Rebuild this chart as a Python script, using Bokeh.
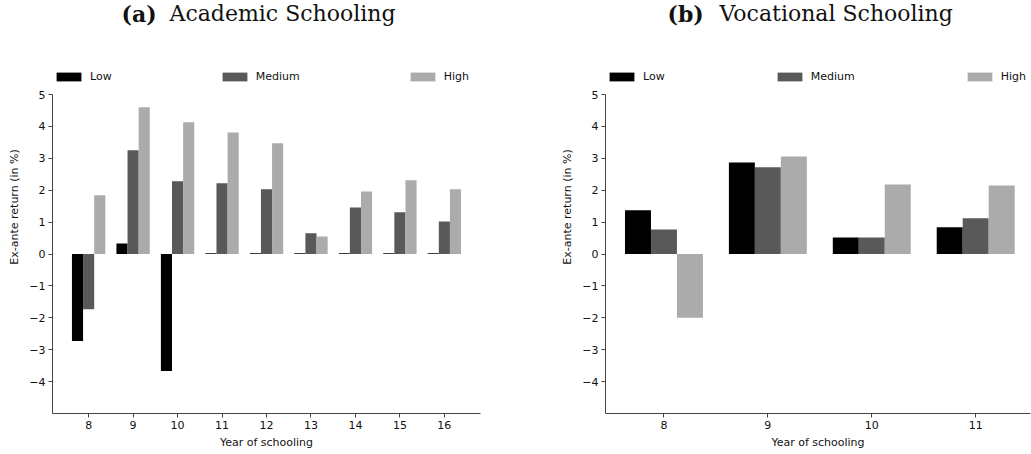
from bokeh.plotting import figure
from bokeh.models import Range1d, FixedTicker, Legend, LegendItem, Label
from bokeh.layouts import row
from bokeh.embed import file_html
from bokeh.resources import INLINE

# ---- data ----
series = ["Low", "Medium", "High"]
colors = ["#000000", "#595959", "#ababab"]

years_a = [8, 9, 10, 11, 12, 13, 14, 15, 16]
low_a = [-2.73, 0.33, -3.67, 0.02, 0.02, 0.02, 0.02, 0.02, 0.02]
med_a = [-1.73, 3.25, 2.28, 2.22, 2.03, 0.65, 1.46, 1.31, 1.02]
high_a = [1.84, 4.60, 4.13, 3.81, 3.47, 0.55, 1.96, 2.31, 2.03]

years_b = [8, 9, 10, 11]
low_b = [1.37, 2.87, 0.52, 0.84]
med_b = [0.77, 2.72, 0.52, 1.12]
high_b = [-2.00, 3.06, 2.18, 2.15]

y_ticks = [-4, -3, -2, -1, 0, 1, 2, 3, 4, 5]
y_min, y_max = -5, 5
bar_w = 0.25
offsets = [-0.25, 0.0, 0.25]

H = 454
AX_TOP = 94          # pixel row of y = 5
BOTTOM_BORDER = 41   # space below the x axis
FRAME_H = H - BOTTOM_BORDER
PX_PER_UNIT = (FRAME_H - AX_TOP) / (y_max - y_min)


def panel(years, vals, tag, title, width, left, right, spacing, right_cut=0.0):
    pad = (max(years) - min(years) + 3 * bar_w) * 0.05
    x0 = min(years) - 1.5 * bar_w - pad
    x1 = max(years) + 1.5 * bar_w + pad - right_cut
    y_top = y_max + AX_TOP / PX_PER_UNIT
    p = figure(width=width, height=H, output_backend="svg", toolbar_location=None,
               x_range=Range1d(x0, x1), y_range=Range1d(y_min, y_top),
               min_border_left=left, min_border_right=right,
               min_border_top=0, min_border_bottom=BOTTOM_BORDER)
    p.outline_line_color = None
    p.grid.visible = False
    p.background_fill_color = "white"
    p.border_fill_color = "white"

    rends = []
    for s, v, c, off in zip(series, vals, colors, offsets):
        xs = [y + off for y in years]
        r = p.vbar(x=xs, top=v, bottom=0, width=bar_w, fill_color=c, line_color=None)
        rends.append(r)

    for ax in (p.xaxis[0], p.yaxis[0]):
        ax.axis_line_color = "#444444"
        ax.axis_line_width = 1
        ax.major_tick_line_color = "#444444"
        ax.major_tick_out = 4
        ax.major_tick_in = 0
        ax.minor_tick_line_color = None
        ax.major_label_text_font = "DejaVu Sans"
        ax.major_label_text_font_size = "11px"
        ax.major_label_text_color = "#111111"
        ax.major_label_standoff = 3
        ax.axis_label_text_font = "DejaVu Sans"
        ax.axis_label_text_font_size = "11px"
        ax.axis_label_text_font_style = "normal"
        ax.axis_label_text_color = "#111111"

    p.xaxis.ticker = FixedTicker(ticks=years)
    p.xaxis.axis_label = "Year of schooling"
    p.xaxis.axis_label_standoff = 4
    p.yaxis.ticker = FixedTicker(ticks=y_ticks)
    p.yaxis.bounds = (y_min, y_max)
    p.yaxis.major_label_overrides = {t: (str(t).replace("-", "\u2212")) for t in y_ticks}
    p.yaxis.axis_label = "Ex-ante return (in %)"
    p.yaxis.axis_label_standoff = 5

    legend = Legend(items=[LegendItem(label=s, renderers=[r]) for s, r in zip(series, rends)],
                    orientation="horizontal", location=(1, FRAME_H - 77 - 6),
                    spacing=spacing, glyph_width=31, glyph_height=11, label_standoff=6,
                    padding=0, margin=0, border_line_alpha=0, background_fill_alpha=0,
                    label_text_font="DejaVu Sans", label_text_font_size="11px",
                    label_text_color="#111111", label_height=11)
    p.add_layout(legend)

    base_y = FRAME_H - 13
    p.add_layout(Label(x=tag[1], y=base_y, x_units="screen", y_units="screen",
                       text=tag[0], text_font="DejaVu Serif", text_font_size="22px",
                       text_font_style="bold", text_baseline="alphabetic", text_color="#111111"))
    p.add_layout(Label(x=title[1], y=base_y, x_units="screen", y_units="screen",
                       text=title[0], text_font="DejaVu Serif", text_font_size="22px",
                       text_baseline="alphabetic", text_color="#111111"))
    return p


pa = panel(years_a, [low_a, med_a, high_a], ("(a)", 69), ("Academic Schooling", 117),
           520, 52, 40, 107)
pb = panel(years_b, [low_b, med_b, high_b], ("(b)", 62), ("Vocational Schooling", 114),
           511, 85, 1, 109, right_cut=0.035)

layout = row(pa, pb)
open("out.html", "w").write(file_html(layout, INLINE))
